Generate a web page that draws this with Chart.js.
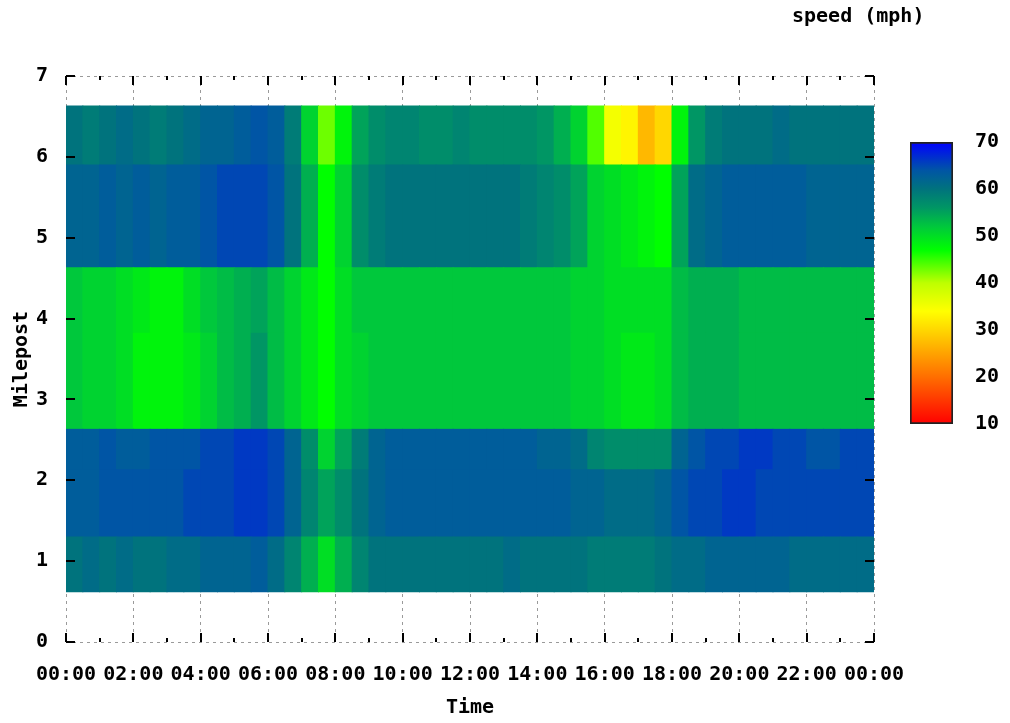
<!DOCTYPE html>
<html>
<head>
<meta charset="utf-8">
<title>Speed by milepost</title>
<script src="https://cdn.jsdelivr.net/npm/chart.js@4.4.1/dist/chart.umd.min.js"></script>
<style>
    body { margin: 0; background: #ffffff; }
    #wrap { position: relative; width: 1010px; height: 723px; }
    #speedChart { position: absolute; left: 0; top: 0; }
    #scaleChart { position: absolute; left: 792px; top: 0; }
</style>
</head>
<body>
<div id="wrap">
    <canvas id="speedChart" width="1010" height="723"></canvas>
    <canvas id="scaleChart" width="218" height="723"></canvas>
</div>
<script>
// detector sections, bottom to top (milepost edges)
const milepostEdges = [0.62, 1.30, 2.13, 2.63, 3.82, 4.63, 5.90, 6.63];

// half hour bins, 00:00 .. 24:00
const BIN_HOURS = 0.5;

// speed (mph) per half hour, one list per section
const speedMp062 = [60, 61, 60, 61, 60, 60, 61, 61, 62, 62, 62, 63, 61, 58, 54, 50,
                    54, 58, 60, 60, 60, 60, 60, 60, 60, 60, 61, 60, 60, 60, 60, 59,
                    59, 59, 59, 60, 61, 61, 62, 62, 62, 62, 62, 61, 61, 61, 61, 61];
const speedMp130 = [63, 63, 64, 64, 64, 64, 64, 65, 65, 65, 66, 66, 65, 62, 58, 55,
                    57, 60, 62, 63, 63, 63, 63, 63, 63, 63, 63, 63, 63, 63, 62, 62,
                    61, 61, 61, 62, 64, 65, 65, 66, 66, 65, 65, 65, 65, 65, 65, 65];
const speedMp213 = [63, 63, 64, 63, 63, 64, 64, 64, 65, 65, 66, 66, 65, 62, 57, 51,
                    55, 59, 62, 63, 63, 63, 63, 63, 63, 63, 63, 63, 62, 62, 61, 58,
                    57, 57, 57, 57, 62, 64, 65, 65, 66, 66, 65, 65, 64, 64, 65, 65];
const speedMp263 = [52, 51, 51, 50, 48, 48, 48, 49, 51, 53, 54, 56, 53, 51, 49, 47,
                    50, 51, 52, 52, 52, 52, 52, 52, 52, 52, 52, 52, 52, 52, 51, 51,
                    50, 49, 49, 50, 53, 54, 54, 54, 53, 53, 53, 53, 53, 53, 53, 53];
const speedMp382 = [52, 51, 51, 50, 49, 48, 48, 50, 52, 53, 54, 55, 53, 51, 49, 47,
                    50, 52, 52, 52, 52, 52, 52, 52, 52, 52, 52, 52, 52, 52, 51, 51,
                    50, 50, 50, 50, 53, 54, 54, 54, 53, 53, 53, 53, 53, 53, 53, 53];
const speedMp463 = [62, 62, 63, 62, 63, 62, 63, 63, 64, 65, 65, 65, 64, 60, 54, 47,
                    51, 57, 59, 60, 60, 60, 60, 60, 60, 60, 60, 59, 58, 57, 55, 51,
                    50, 49, 48, 47, 55, 61, 62, 63, 63, 63, 63, 63, 62, 62, 62, 62];
const speedMp590 = [60, 59, 60, 61, 60, 59, 60, 61, 62, 62, 63, 64, 63, 59, 51, 43,
                    48, 55, 57, 58, 58, 57, 57, 58, 57, 57, 57, 57, 56, 54, 51, 44,
                    35, 33, 27, 30, 48, 56, 59, 60, 60, 60, 61, 60, 60, 60, 60, 60];

const speedRows = [speedMp062, speedMp130, speedMp213, speedMp263, speedMp382, speedMp463, speedMp590];

// colour scale, speed -> rgb
const colorStops = [
    [10, [255, 0, 0]],
    [20, [255, 110, 0]],
    [30, [255, 215, 0]],
    [34, [255, 255, 0]],
    [40, [190, 255, 0]],
    [47, [0, 255, 0]],
    [52, [0, 200, 60]],
    [56, [0, 150, 100]],
    [60, [0, 115, 125]],
    [64, [0, 85, 165]],
    [70, [0, 0, 255]],
];
const SPEED_MIN = 10;
const SPEED_MAX = 70;

const FONT = {family: "'DejaVu Sans Mono', monospace", size: 20, weight: 'bold'};

function speedColor(v) {
    if (v <= colorStops[0][0]) return 'rgb(' + colorStops[0][1].join(',') + ')';
    for (let i = 1; i < colorStops.length; i++) {
        const [v1, c1] = colorStops[i];
        if (v <= v1) {
            const [v0, c0] = colorStops[i - 1];
            const t = (v - v0) / (v1 - v0);
            const c = c0.map((a, k) => Math.round(a + (c1[k] - a) * t));
            return 'rgb(' + c.join(',') + ')';
        }
    }
    return 'rgb(' + colorStops[colorStops.length - 1][1].join(',') + ')';
}

function hourLabel(v) {
    return String(v % 24).padStart(2, '0') + ':00';
}

// one floating bar per bin and section
const datasets = speedRows.map((row, r) => ({
    data: row.map((v, i) => ({x: (i + 0.5) * BIN_HOURS, y: [milepostEdges[r], milepostEdges[r + 1]]})),
    backgroundColor: row.map(speedColor),
    borderWidth: 0,
    grouped: false,
    barPercentage: 1,
    categoryPercentage: 1,
    inflateAmount: 0.5,
    xAxisID: 'x',
    yAxisID: 'y',
}));

// short black ticks pointing into the plot, like the gnuplot border
const tickMarks = {
    id: 'tickMarks',
    afterDraw(chart) {
        const {ctx, chartArea: a, scales: {x, y}} = chart;
        ctx.save();
        ctx.strokeStyle = '#000000';
        ctx.lineWidth = 2;
        ctx.beginPath();
        for (let h = 0; h <= 24; h++) {
            const px = Math.round(x.getPixelForValue(h));
            const len = h % 2 === 0 ? 9 : 4;
            ctx.moveTo(px, a.bottom);
            ctx.lineTo(px, a.bottom - len);
            ctx.moveTo(px, a.top);
            ctx.lineTo(px, a.top + len);
        }
        y.ticks.forEach(t => {
            const py = Math.round(y.getPixelForValue(t.value));
            ctx.moveTo(a.left, py);
            ctx.lineTo(a.left + 9, py);
            ctx.moveTo(a.right, py);
            ctx.lineTo(a.right - 9, py);
        });
        ctx.stroke();
        ctx.restore();
    }
};

const speedChart = new Chart(document.getElementById('speedChart'), {
    type: 'bar',
    data: {datasets: datasets},
    plugins: [tickMarks],
    options: {
        responsive: false,
        animation: false,
        events: [],
        layout: {padding: {left: 0, top: 76, right: 136, bottom: 0}},
        plugins: {
            legend: {display: false},
            tooltip: {enabled: false},
        },
        scales: {
            x: {
                type: 'linear',
                min: 0,
                max: 24,
                offset: false,
                z: 1,
                afterFit: scale => { scale.height = 81; },
                grid: {color: '#ffffff', lineWidth: 1, drawTicks: false, offset: false},
                border: {display: false},
                ticks: {
                    stepSize: 2,
                    autoSkip: false,
                    maxRotation: 0,
                    minRotation: 0,
                    padding: 21,
                    color: '#000000',
                    font: FONT,
                    callback: value => hourLabel(value),
                },
                title: {display: true, text: 'Time', color: '#000000', font: FONT, padding: {top: 0, bottom: 3}},
            },
            xDash: {
                type: 'linear',
                position: 'top',
                min: 0,
                max: 24,
                offset: false,
                z: 2,
                afterFit: scale => { scale.height = 0; },
                grid: {color: '#9a9a9a', lineWidth: 1, drawTicks: false, offset: false},
                border: {display: false, dash: [3, 4]},
                ticks: {stepSize: 2, display: false},
            },
            y: {
                type: 'linear',
                min: 0,
                max: 7,
                z: 1,
                afterFit: scale => { scale.width = 66; },
                grid: {color: '#ffffff', lineWidth: 1, drawTicks: false},
                border: {display: false},
                ticks: {stepSize: 1, padding: 18, color: '#000000', font: FONT},
                title: {display: true, text: 'Milepost', color: '#000000', font: FONT, padding: {top: 10, bottom: 0}},
            },
            yDash: {
                type: 'linear',
                position: 'right',
                min: 0,
                max: 7,
                z: 2,
                afterFit: scale => { scale.width = 0; },
                grid: {color: '#9a9a9a', lineWidth: 1, drawTicks: false},
                border: {display: false, dash: [3, 4]},
                ticks: {stepSize: 1, display: false},
            },
        },
    },
});

// colour bar legend
function colorbarFill(context) {
    const chart = context.chart;
    const {ctx, chartArea, scales} = chart;
    if (!chartArea) return null;
    const y = scales.y;
    const g = ctx.createLinearGradient(0, y.getPixelForValue(SPEED_MIN), 0, y.getPixelForValue(SPEED_MAX));
    colorStops.forEach(([v, rgb]) => {
        g.addColorStop((v - SPEED_MIN) / (SPEED_MAX - SPEED_MIN), 'rgb(' + rgb.join(',') + ')');
    });
    return g;
}

const scaleChart = new Chart(document.getElementById('scaleChart'), {
    type: 'bar',
    data: {
        labels: [''],
        datasets: [{
            data: [[SPEED_MIN, SPEED_MAX]],
            xAxisID: 'x',
            yAxisID: 'y',
            backgroundColor: colorbarFill,
            borderColor: '#222222',
            borderWidth: 2,
            borderSkipped: false,
            barPercentage: 1,
            categoryPercentage: 1,
        }],
    },
    options: {
        responsive: false,
        animation: false,
        events: [],
        layout: {padding: {left: 0, top: 0, right: 0, bottom: 299}},
        plugins: {
            legend: {display: false},
            tooltip: {enabled: false},
            title: {
                display: true,
                text: 'speed (mph)',
                align: 'start',
                color: '#000000',
                font: FONT,
                padding: {top: 5, bottom: 113},
            },
        },
        scales: {
            x: {display: false},
            spacer: {
                type: 'linear',
                position: 'left',
                min: 0,
                max: 1,
                afterFit: scale => { scale.width = 118; },
                grid: {display: false},
                border: {display: false},
                ticks: {display: false},
            },
            y: {
                type: 'linear',
                position: 'right',
                min: SPEED_MIN,
                max: SPEED_MAX,
                z: 1,
                afterFit: scale => { scale.width = 57; },
                grid: {
                    color: ctx => (ctx.tick && (ctx.tick.value === SPEED_MIN || ctx.tick.value === SPEED_MAX)) ? 'rgba(0,0,0,0)' : '#000000',
                    lineWidth: 2,
                    drawTicks: false,
                },
                border: {display: false, dash: [6, 31]},
                ticks: {stepSize: 10, padding: 22, color: '#000000', font: FONT},
            },
        },
    },
});
</script>
</body>
</html>
